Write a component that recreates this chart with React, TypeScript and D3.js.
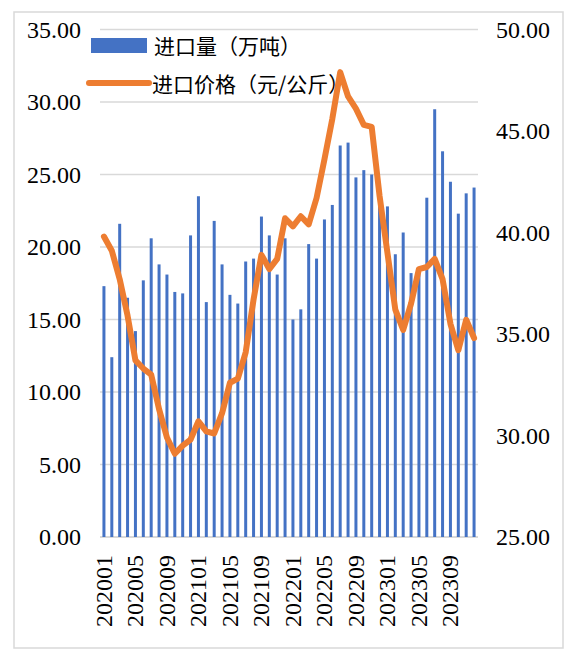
import * as d3 from "d3";

const months: string[] = [];
for (const y of [2020, 2021, 2022, 2023]) {
  for (let m = 1; m <= 12; m++) months.push(`${y}${String(m).padStart(2, "0")}`);
}

// 进口量（万吨）
const volume = [
  17.3, 12.4, 21.6, 16.5, 14.2, 17.7, 20.6, 18.8, 18.1, 16.9, 16.8, 20.8,
  23.5, 16.2, 21.8, 18.8, 16.7, 16.1, 19.0, 19.2, 22.1, 20.8, 18.1, 20.6,
  15.0, 15.7, 20.2, 19.2, 21.9, 22.9, 27.0, 27.2, 24.8, 25.3, 25.0, 23.5,
  22.8, 19.5, 21.0, 18.2, 18.5, 23.4, 29.5, 26.6, 24.5, 22.3, 23.7, 24.1,
];

// 进口价格（元/公斤）
const price = [
  39.8, 39.1, 37.7, 35.9, 33.7, 33.3, 33.0, 31.3, 29.9, 29.1, 29.5, 29.8,
  30.7, 30.2, 30.1, 31.1, 32.6, 32.8, 34.1, 36.7, 38.9, 38.2, 38.7, 40.7,
  40.3, 40.8, 40.4, 41.7, 43.6, 45.6, 47.9, 46.7, 46.1, 45.3, 45.2, 41.8,
  39.0, 36.2, 35.2, 36.5, 38.2, 38.3, 38.7, 37.7, 35.5, 34.2, 35.7, 34.8,
];

const leftTicks = [0, 5, 10, 15, 20, 25, 30, 35];
const rightTicks = [25, 30, 35, 40, 45, 50];
const xTickLabels = months.filter((_, i) => i % 4 === 0);

const seriesNames = ["进口量（万吨）", "进口价格（元/公斤）"];

const W = 580;
const H = 663;
const PLOT = { left: 100, right: 478, top: 29.5, bottom: 537 };
const BLUE = "#4472C4";
const ORANGE = "#ED7D31";
const GRID = "#d9d9d9";
const LATIN = '"Liberation Serif", "DejaVu Serif", serif';
const CJK = '"Noto Sans CJK SC", sans-serif';

export default function App() {
  const x = d3
    .scaleBand()
    .domain(months)
    .range([PLOT.left, PLOT.right])
    .paddingInner(0.62)
    .paddingOuter(0.31);
  const yLeft = d3.scaleLinear().domain([0, 35]).range([PLOT.bottom, PLOT.top]);
  const yRight = d3.scaleLinear().domain([25, 50]).range([PLOT.bottom, PLOT.top]);
  const center = (m: string) => (x(m) ?? 0) + x.bandwidth() / 2;

  const priceLine = d3
    .line<number>()
    .x((_, i) => center(months[i]))
    .y((d) => yRight(d));

  return (
    <svg
      width={W}
      height={H}
      style={{ position: "absolute", left: 0, top: 0, background: "#fff" }}
    >
      <rect x={14} y={12} width={549} height={636} fill="#fff" stroke={GRID} strokeWidth={1.5} />

      {/* grid lines */}
      {leftTicks.map((t) => (
        <line
          key={t}
          x1={PLOT.left}
          x2={PLOT.right}
          y1={yLeft(t)}
          y2={yLeft(t)}
          stroke={GRID}
          strokeWidth={t === 0 ? 2 : 1.5}
        />
      ))}

      <g fontFamily={LATIN} fontSize={24} fill="#000">
        {/* left axis labels */}
        {leftTicks.map((t) => (
          <text key={t} x={81} y={yLeft(t)} textAnchor="end" dominantBaseline="central">
            {t.toFixed(2)}
          </text>
        ))}

        {/* right axis labels */}
        {rightTicks.map((t) => (
          <text key={t} x={496} y={yRight(t)} textAnchor="start" dominantBaseline="central">
            {t.toFixed(2)}
          </text>
        ))}

        {/* x labels */}
        {xTickLabels.map((m) => (
          <text
            key={m}
            transform={`translate(${center(m)},555) rotate(-90)`}
            textAnchor="end"
            dominantBaseline="central"
          >
            {m}
          </text>
        ))}
      </g>

      {/* legend */}
      <rect x={91} y={38} width={56} height={15} fill={BLUE} />
      <line x1={89} x2={149} y1={83} y2={83} stroke={ORANGE} strokeWidth={6} strokeLinecap="round" />
      <g fontFamily={CJK} fontSize={21} fill="#000">
        <text x={154} y={45} dominantBaseline="central">
          {seriesNames[0]}
        </text>
        <text x={152} y={83} dominantBaseline="central">
          {seriesNames[1]}
        </text>
      </g>

      {/* bars */}
      {volume.map((v, i) => (
        <rect
          key={months[i]}
          x={x(months[i])}
          y={yLeft(v)}
          width={x.bandwidth()}
          height={yLeft(0) - yLeft(v)}
          fill={BLUE}
        />
      ))}

      {/* price line */}
      <path
        d={priceLine(price) ?? ""}
        fill="none"
        stroke={ORANGE}
        strokeWidth={6}
        strokeLinejoin="round"
        strokeLinecap="round"
      />
    </svg>
  );
}
